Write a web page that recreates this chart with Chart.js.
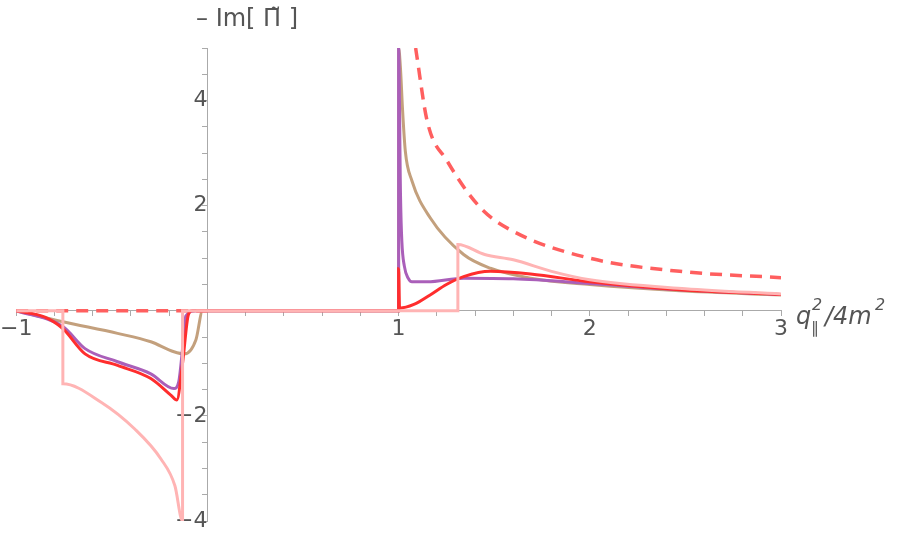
<!DOCTYPE html>
<html><head><meta charset="utf-8">
<script src="https://cdn.jsdelivr.net/npm/chart.js@4/dist/chart.umd.min.js"></script>
<style>html,body{margin:0;padding:0;background:#fff}#w{width:900px;height:538px}</style>
</head><body><div id="w"><canvas id="c"></canvas></div>
<script>
const xTickLabels=[-1,1,2,3];
const yTickLabels=[-4,-2,2,4];
const pinkX=[-1,-0.756,-0.756,-0.556,-0.38,-0.243,-0.17,-0.13,-0.13,1.31,1.31,1.45,1.6,1.8,2,2.5,3];
const pinkY=[0,0,-1.39,-1.74,-2.25,-2.82,-3.33,-4,0,0,1.26,1.07,0.97,0.75,0.59,0.42,0.32];
const dashX=[-1,0,null,1.089,1.15,1.254,1.428,1.6,2,2.47,3];
const dashY=[0,0,null,5,3.6,2.85,1.96,1.51,1.0,0.75,0.63];
const redX=[-1,-0.85,-0.756,-0.64,-0.47,-0.296,-0.19,-0.16,-0.13,-0.10,-0.08,1,1,1.005,1.08,1.165,1.25,1.34,1.48,1.69,2,2.47,3];
const redY=[0,-0.12,-0.34,-0.82,-1.04,-1.29,-1.61,-1.70,-1.0,-0.08,0,0,0.8,0.05,0.12,0.3,0.5,0.65,0.75,0.7,0.55,0.40,0.31];
const purpleX=[-1,-0.756,-0.64,-0.47,-0.296,-0.175,-0.15,-0.13,-0.113,-0.06,1,1,1.01,1.017,1.03,1.05,1.07,1.15,1.34,1.6,2,2.47,3];
const purpleY=[0,-0.3,-0.72,-0.97,-1.20,-1.48,-1.35,-0.72,-0.1,0,0,5,2.2,1.32,0.85,0.62,0.55,0.55,0.62,0.61,0.52,0.40,0.31];
const tanX=[-1,-0.756,-0.47,-0.296,-0.175,-0.12,-0.06,-0.025,1,1,1.01,1.02,1.035,1.07,1.165,1.34,1.48,1.69,2,2.47,3];
const tanY=[0,-0.21,-0.43,-0.59,-0.78,-0.82,-0.55,0,0,5,4.6,3.87,3.04,2.47,1.77,1.07,0.81,0.62,0.5,0.38,0.30];
const pts=(xs,ys)=>xs.map((x,i)=>x===null?{x:NaN,y:null}:{x:x,y:ys[i]});
function ds(xs,ys,color,extra){return Object.assign({data:pts(xs,ys),borderColor:color,borderWidth:3,pointRadius:0,fill:false,cubicInterpolationMode:'monotone',spanGaps:false},extra||{});}
const labels={id:'labels',afterDraw(ch){const c=ch.ctx;c.save();c.fillStyle='#555';
c.font='24px "DejaVu Sans"';c.textBaseline='middle';c.fillText('– Im[ Π̃ ]',196,20);
c.font='italic 24px "DejaVu Sans"';c.fillText('q',796,318);c.font='italic 16px "DejaVu Sans"';c.fillText('2',812,306);c.fillText('∥',811,329);
c.font='italic 24px "DejaVu Sans"';c.fillText('/4m',825,318);c.font='italic 16px "DejaVu Sans"';c.fillText('2',875,306);c.restore();}};
new Chart(document.getElementById('c'),{type:'line',
data:{datasets:[ds(pinkX,pinkY,'rgb(255,180,180)'),ds(dashX,dashY,'rgb(255,95,95)',{borderDash:[12,8],borderWidth:3.5}),ds(redX,redY,'rgb(255,45,45)'),ds(purpleX,purpleY,'rgb(170,95,185)'),ds(tanX,tanY,'rgb(195,160,125)')]},
options:{animation:false,responsive:true,maintainAspectRatio:false,layout:{padding:{left:15,right:119,top:48,bottom:17}},
plugins:{legend:{display:false},tooltip:{enabled:false}},
scales:{x:{type:'linear',min:-1,max:3,position:{y:0},border:{color:'#aaa'},grid:{drawOnChartArea:false,tickLength:5,color:'#aaa'},
ticks:{stepSize:0.2,autoSkip:false,maxRotation:0,color:'#555',font:{size:22,family:'DejaVu Sans'},padding:0,callback:v=>xTickLabels.includes(Math.round(v*10)/10)&&Math.abs(v-Math.round(v))<1e-6?(v<0?'−'+Math.abs(v):String(v)):''}},
y:{type:'linear',min:-4,max:5,position:{x:0},border:{color:'#aaa'},grid:{drawOnChartArea:false,tickLength:5,color:'#aaa'},
ticks:{stepSize:0.5,autoSkip:false,color:'#555',font:{size:22,family:'DejaVu Sans'},padding:2,callback:v=>yTickLabels.includes(v)?(v<0?'−'+Math.abs(v):String(v)):''}}}},
plugins:[labels]});
</script></body></html>
